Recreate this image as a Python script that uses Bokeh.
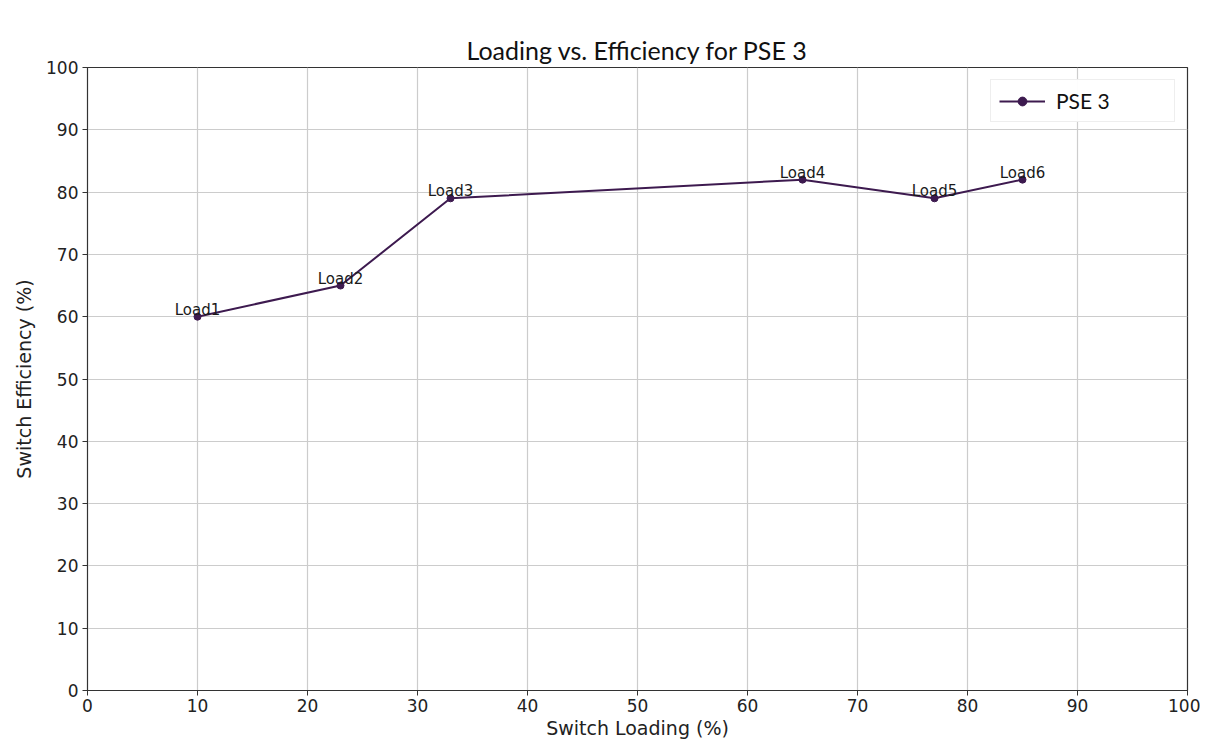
from bokeh.plotting import figure
from bokeh.models import ColumnDataSource, Range1d, FixedTicker, Legend, LegendItem
from bokeh.embed import file_html
from bokeh.resources import INLINE
from bokeh.core.properties import value

loading = [10, 23, 33, 65, 77, 85]
efficiency = [60, 65, 79, 82, 79, 82]
labels = ["Load1", "Load2", "Load3", "Load4", "Load5", "Load6"]
ticks = list(range(0, 101, 10))
series_name = "PSE 3"
color = "#3d1a4f"

src = ColumnDataSource(dict(x=loading, y=efficiency, label=labels))

p = figure(width=1200, height=741, output_backend="svg", toolbar_location=None,
           x_range=Range1d(0, 100), y_range=Range1d(0, 100),
           min_border_left=87, min_border_right=13, min_border_top=67, min_border_bottom=45)

p.title.text = "Loading vs. Efficiency for PSE 3"
p.title.align = "center"
p.title.text_font = "Lato"
p.title.text_font_size = "25px"
p.title.text_font_style = "normal"
p.title.text_color = "#111111"
p.title.standoff = 6

ln = p.line("x", "y", source=src, line_color=color, line_width=2)
sc = p.scatter("x", "y", source=src, size=7, fill_color=color, line_color=color)
p.text("x", "y", text="label", source=src, text_align="center", text_baseline="bottom",
       y_offset=2, text_font=value("DejaVu Sans"), text_font_size="15px", text_color="#1a1a1a")

for ax in (p.xaxis[0], p.yaxis[0]):
    ax.ticker = FixedTicker(ticks=ticks)
    ax.major_label_text_font = "DejaVu Sans"
    ax.major_label_text_font_size = "17px"
    ax.major_label_text_color = "#222222"
    ax.axis_label_text_font = "DejaVu Sans"
    ax.axis_label_text_font_size = "19px"
    ax.axis_label_text_font_style = "normal"
    ax.axis_label_text_color = "#222222"
    ax.minor_tick_line_color = None
    ax.major_tick_out = 5
    ax.major_tick_in = 0
    ax.axis_line_color = "#333333"
    ax.major_tick_line_color = "#333333"

p.xaxis.axis_label = "Switch Loading (%)"
p.yaxis.axis_label = "Switch Efficiency (%)"
p.xaxis.major_label_standoff = 3
p.yaxis.major_label_standoff = 4
p.xaxis.axis_label_standoff = 2
p.yaxis.axis_label_standoff = 8

p.xgrid.ticker = FixedTicker(ticks=ticks)
p.ygrid.ticker = FixedTicker(ticks=ticks)
p.grid.grid_line_color = "#cccccc"
p.grid.grid_line_width = 1.2

p.outline_line_color = "#333333"
p.outline_line_width = 1.2

legend = Legend(items=[LegendItem(label=series_name, renderers=[ln, sc])],
                location="top_right", margin=12,
                label_text_font="Lato", label_text_font_size="21px",
                label_text_color="#111111", glyph_width=46, glyph_height=22,
                label_width=110, label_height=22,
                border_line_color="#dddddd", border_line_width=1,
                padding=8, spacing=0, label_standoff=11)
p.add_layout(legend)

open("out.html", "w").write(file_html(p, INLINE))
